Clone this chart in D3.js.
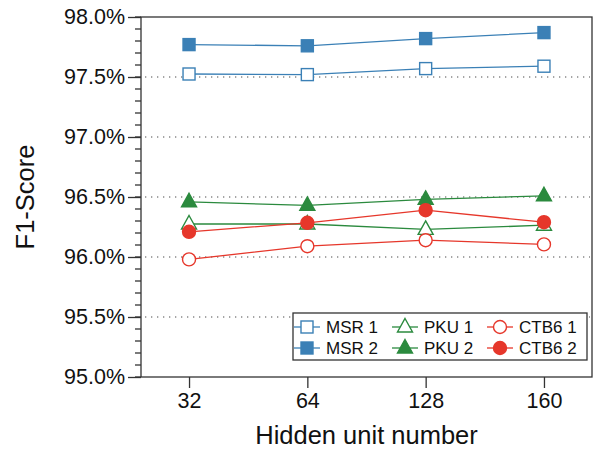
<!DOCTYPE html>
<html>
<head>
<meta charset="utf-8">
<style>
    body { margin: 0; background: #fff; }
    text { font-family: "Liberation Sans", Arial, sans-serif; fill: #111; }
    g.grid line { stroke: #888; stroke-width: 1.3; stroke-dasharray: 1.3 4.7; }
    g.axis path, g.axis line { stroke: #333; stroke-width: 1.3; }
</style>
</head>
<body>
<div id="target"></div>
<script src="https://cdnjs.cloudflare.com/ajax/libs/d3/7.8.5/d3.min.js"></script>
<script>
    var hiddenUnits = ['32', '64', '128', '160'];
    var msr1 = [97.525, 97.52, 97.57, 97.59];
    var msr2 = [97.77, 97.76, 97.82, 97.87];
    var pku1 = [96.275, 96.275, 96.23, 96.265];
    var pku2 = [96.46, 96.43, 96.48, 96.51];
    var ctb1 = [95.98, 96.09, 96.14, 96.105];
    var ctb2 = [96.21, 96.285, 96.39, 96.29];
    var yTicks = [95.0, 95.5, 96.0, 96.5, 97.0, 97.5, 98.0];

    var blue = '#3b80b6', green = '#2b8a3e', red = '#e6372b';
    var series = [
        {name: 'MSR 1', values: msr1, color: blue, shape: 'square', filled: false},
        {name: 'MSR 2', values: msr2, color: blue, shape: 'square', filled: true},
        {name: 'PKU 1', values: pku1, color: green, shape: 'triangle', filled: false},
        {name: 'PKU 2', values: pku2, color: green, shape: 'triangle', filled: true},
        {name: 'CTB6 1', values: ctb1, color: red, shape: 'circle', filled: false},
        {name: 'CTB6 2', values: ctb2, color: red, shape: 'circle', filled: true}
    ];

    var W = 595, H = 450;
    var pLeft = 141, pRight = 592, pTop = 17, pBottom = 377;
    var font = '"Liberation Sans", Arial, sans-serif';

    var svg = d3.select('#target').append('svg')
        .attr('width', W).attr('height', H);

    var x = d3.scalePoint().domain(hiddenUnits).range([pLeft, pRight]).padding(0.406);
    var y = d3.scaleLinear().domain([95, 98]).range([pBottom, pTop]);

    // dotted grid
    svg.append('g').attr('class', 'grid')
        .selectAll('line')
        .data(yTicks.slice(1, -1))
        .enter().append('line')
        .attr('x1', pLeft + 4).attr('x2', pRight - 2)
        .attr('y1', function (d) { return y(d); })
        .attr('y2', function (d) { return y(d); });

    // frame
    svg.append('rect')
        .attr('x', pLeft).attr('y', pTop)
        .attr('width', pRight - pLeft).attr('height', pBottom - pTop)
        .attr('fill', 'none').attr('stroke', '#333').attr('stroke-width', 1.3);

    // y axis with minor ticks
    var yAxis = svg.append('g').attr('class', 'axis')
        .attr('transform', 'translate(' + pLeft + ',0)');
    yAxis.selectAll('line.minor')
        .data(d3.range(95, 98.001, 0.1))
        .enter().append('line')
        .attr('class', 'minor')
        .attr('x1', -6).attr('x2', 0)
        .attr('y1', function (d) { return y(d); })
        .attr('y2', function (d) { return y(d); });
    yAxis.call(d3.axisLeft(y).tickValues(yTicks).tickSize(13).tickPadding(3)
        .tickFormat(function (d) { return d.toFixed(1) + '%'; }));
    yAxis.select('.domain').remove();
    yAxis.selectAll('text').style('font-size', '21.5px')
        .style('font-family', font).attr('fill', '#111');

    // x axis
    var xAxis = svg.append('g').attr('class', 'axis')
        .attr('transform', 'translate(0,' + pBottom + ')')
        .call(d3.axisBottom(x).tickSize(11).tickPadding(5));
    xAxis.select('.domain').remove();
    xAxis.selectAll('text').style('font-size', '21.5px')
        .style('font-family', font).attr('fill', '#111');

    // axis titles
    svg.append('text')
        .attr('x', (pLeft + pRight) / 2).attr('y', 444)
        .attr('text-anchor', 'middle')
        .style('font-size', '25.5px')
        .text('Hidden unit number');
    svg.append('text')
        .attr('transform', 'translate(34,' + ((pTop + pBottom) / 2) + ') rotate(-90)')
        .attr('text-anchor', 'middle')
        .style('font-size', '25.5px')
        .text('F1-Score');

    function drawMarker(g, s) {
        var fill = s.filled ? s.color : '#fff';
        if (s.shape === 'square') {
            g.append('rect').attr('x', -6).attr('y', -6).attr('width', 12).attr('height', 12)
                .attr('fill', fill).attr('stroke', s.color).attr('stroke-width', 1.4);
        } else if (s.shape === 'triangle') {
            g.append('path').attr('d', 'M0,-8.5L7.5,5L-7.5,5Z')
                .attr('fill', fill).attr('stroke', s.color).attr('stroke-width', 1.4);
        } else {
            g.append('circle').attr('r', 6.5)
                .attr('fill', fill).attr('stroke', s.color).attr('stroke-width', 1.4);
        }
    }

    var line = d3.line()
        .x(function (d, i) { return x(hiddenUnits[i]); })
        .y(function (d) { return y(d); });

    series.forEach(function (s) {
        svg.append('path')
            .attr('d', line(s.values))
            .attr('fill', 'none').attr('stroke', s.color).attr('stroke-width', 1.3);
    });
    series.forEach(function (s) {
        s.values.forEach(function (v, i) {
            var g = svg.append('g')
                .attr('transform', 'translate(' + x(hiddenUnits[i]) + ',' + y(v) + ')');
            drawMarker(g, s);
        });
    });

    // legend
    var legend = svg.append('g');
    legend.append('rect')
        .attr('x', 293).attr('y', 313).attr('width', 294).attr('height', 47)
        .attr('fill', '#fff').attr('stroke', '#333').attr('stroke-width', 1.3);
    var colX = [307, 405, 500];
    var rowY = [327, 348];
    series.forEach(function (s, i) {
        var cx = colX[Math.floor(i / 2)], cy = rowY[i % 2];
        var g = legend.append('g').attr('transform', 'translate(' + cx + ',' + cy + ')');
        g.append('line').attr('x1', -13).attr('x2', 13)
            .attr('stroke', s.color).attr('stroke-width', 1.3);
        drawMarker(g, s);
        legend.append('text')
            .attr('x', cx + 19).attr('y', cy + 6)
            .style('font-size', '17px')
            .text(s.name);
    });
</script>
</body>
</html>
